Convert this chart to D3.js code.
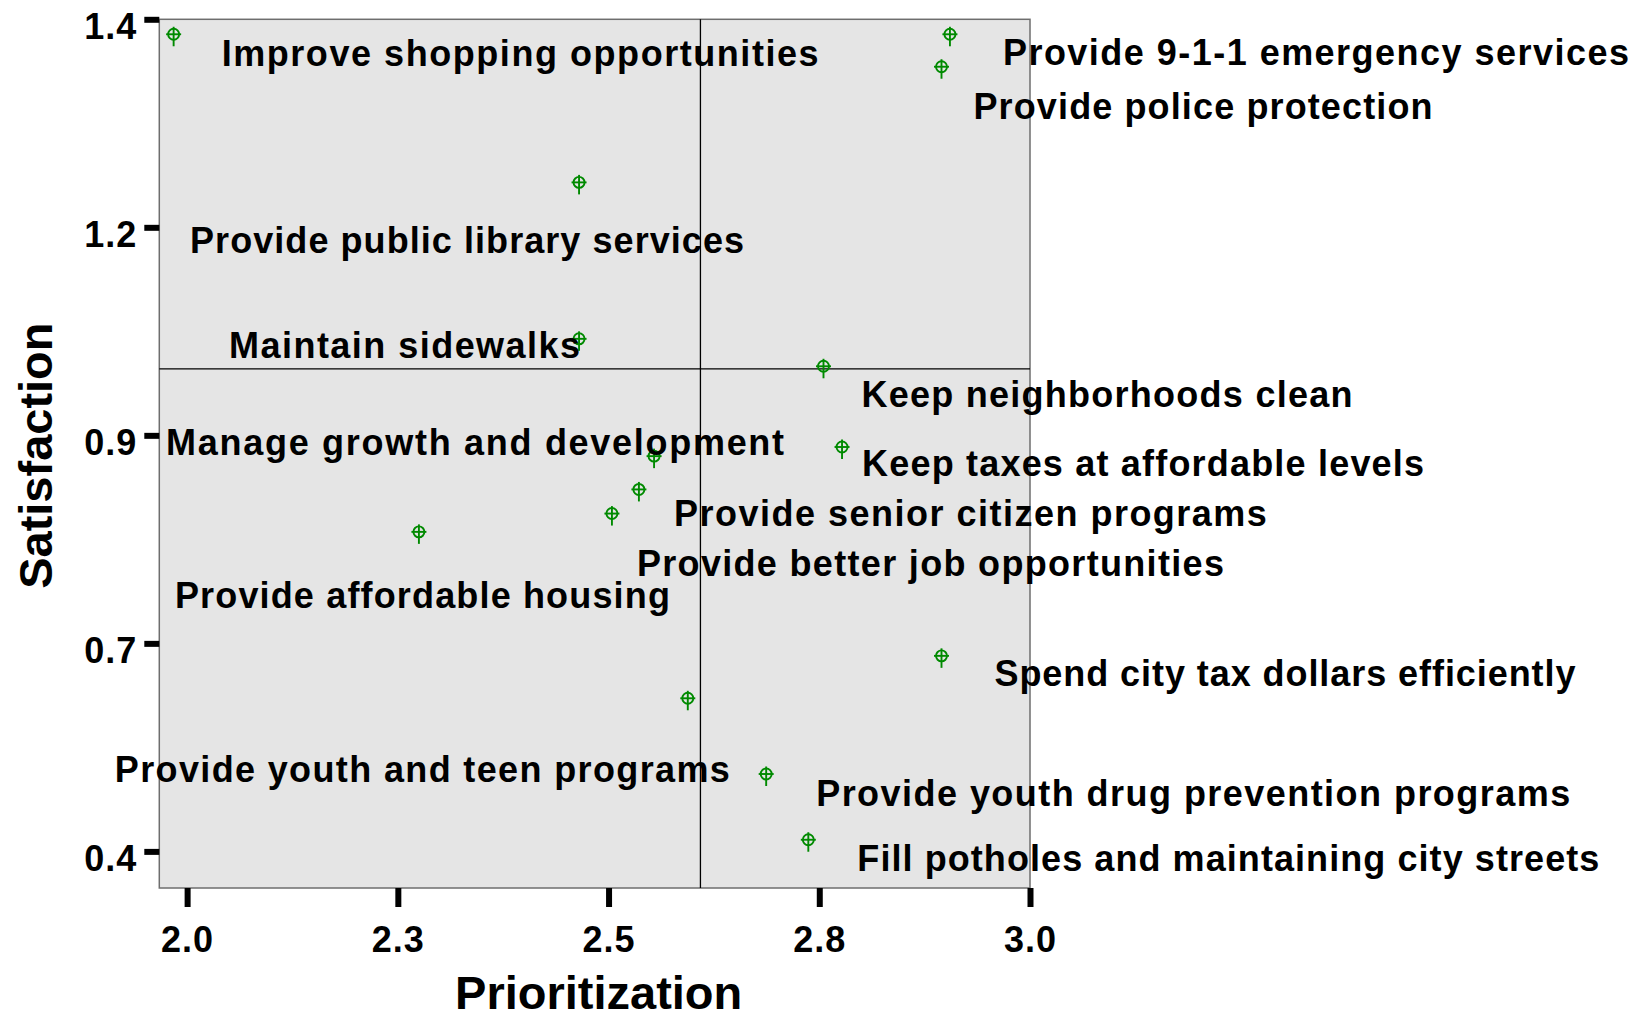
<!DOCTYPE html>
<html>
<head>
<meta charset="utf-8">
<script src="https://cdn.jsdelivr.net/npm/d3@7/dist/d3.min.js"></script>
<style>
  body { margin: 0; background: #fff; }
  svg text { font-family: "Liberation Sans", Arial, sans-serif; font-weight: bold; fill: #000; }
</style>
</head>
<body>
<svg id="chart" width="1646" height="1014"></svg>
<script>
// services rated by residents
var services = [
  "Improve shopping opportunities",
  "Provide 9-1-1 emergency services",
  "Provide police protection",
  "Provide public library services",
  "Maintain sidewalks",
  "Keep neighborhoods clean",
  "Keep taxes at affordable levels",
  "Manage growth and development",
  "Provide senior citizen programs",
  "Provide better job opportunities",
  "Provide affordable housing",
  "Spend city tax dollars efficiently",
  "Provide youth and teen programs",
  "Provide youth drug prevention programs",
  "Fill potholes and maintaining city streets"
];
var prioritization = [1.984, 2.905, 2.895, 2.465, 2.465, 2.755, 2.777, 2.554, 2.536, 2.504, 2.275, 2.895, 2.594, 2.687, 2.737];
var satisfaction   = [1.382, 1.382, 1.343, 1.204, 1.016, 0.983, 0.886, 0.875, 0.835, 0.806, 0.784, 0.635, 0.584, 0.493, 0.414];

var refPrioritization = 2.609,
    refSatisfaction = 0.980;

var xTicks = [2.0, 2.25, 2.5, 2.75, 3.0],
    xTickLabels = ["2.0", "2.3", "2.5", "2.8", "3.0"];
var yTicks = [0.4, 0.65, 0.9, 1.15, 1.4],
    yTickLabels = ["0.4", "0.7", "0.9", "1.2", "1.4"];

// label layout relative to its point (px): [dx to text start, dy to baseline, text width]
var labelLayout = [
  [48, 31.5, 597], [53, 31, 626], [32, 52, 459], [-389, 71, 554], [-350, 19.5, 351],
  [38, 41, 491], [20, 29, 562], [-488, -1.5, 618], [35, 37, 593], [25, 62, 587],
  [-244, 76.5, 495], [53, 30.5, 581], [-573, 83.5, 615], [50, 31.5, 754], [49, 31.5, 742]
];

var svg = d3.select("#chart"),
    plotLeft = 159.3, plotRight = 1030, plotTop = 19.3, plotBottom = 888;

var x = d3.scaleLinear().domain([1.967, 3.0]).range([plotLeft, plotRight]),
    y = d3.scaleLinear().domain([0.356, 1.4]).range([plotBottom, plotTop]);

// plot area
svg.append("rect")
   .attr("x", plotLeft)
   .attr("y", plotTop)
   .attr("width", plotRight - plotLeft)
   .attr("height", plotBottom - plotTop)
   .attr("fill", "#e5e5e5")
   .attr("stroke", "#6e6e6e")
   .attr("stroke-width", 1.5);

// quadrant lines
svg.append("line")
   .attr("x1", x(refPrioritization)).attr("x2", x(refPrioritization))
   .attr("y1", plotTop).attr("y2", plotBottom)
   .attr("stroke", "#000").attr("stroke-width", 1.3);
svg.append("line")
   .attr("x1", plotLeft).attr("x2", plotRight)
   .attr("y1", y(refSatisfaction)).attr("y2", y(refSatisfaction))
   .attr("stroke", "#000").attr("stroke-width", 1.3);

// axes
var yAxis = svg.append("g")
   .attr("transform", "translate(" + plotLeft + ",0)")
   .call(d3.axisLeft(y).tickValues(yTicks)
     .tickFormat(function(d, i) { return yTickLabels[i]; })
     .tickSize(15).tickPadding(7));

var xAxis = svg.append("g")
   .attr("transform", "translate(0," + plotBottom + ")")
   .call(d3.axisBottom(x).tickValues(xTicks)
     .tickFormat(function(d, i) { return xTickLabels[i]; })
     .tickSize(19).tickPadding(19));

[xAxis, yAxis].forEach(function(g) {
  g.select(".domain").remove();
  g.selectAll(".tick line").attr("stroke", "#000").attr("stroke-width", 6);
  g.selectAll(".tick text")
   .attr("font-size", "36px")
   .attr("font-family", null)
   .attr("letter-spacing", "1px")
   .attr("fill", "#000");
});
yAxis.selectAll(".tick text").attr("dy", "19px");
xAxis.selectAll(".tick text").attr("dy", "25.5px");

// axis titles
svg.append("text")
   .attr("x", (plotLeft + plotRight) / 2 + 4)
   .attr("y", 1009)
   .attr("text-anchor", "middle")
   .attr("font-size", "47px")
   .text("Prioritization");

svg.append("text")
   .attr("transform", "translate(52," + ((plotTop + plotBottom) / 2 + 2) + ") rotate(-90)")
   .attr("text-anchor", "middle")
   .attr("font-size", "47px")
   .text("Satisfaction");

// points
var pts = svg.append("g").selectAll("g.pt")
   .data(services)
   .enter().append("g")
   .attr("class", "pt")
   .attr("transform", function(d, i) {
     return "translate(" + x(prioritization[i]) + "," + y(satisfaction[i]) + ")";
   });

pts.append("circle")
   .attr("r", 5.5)
   .attr("fill", "none")
   .attr("stroke", "#008a00")
   .attr("stroke-width", 1.9);
pts.append("line")
   .attr("x1", -7.5).attr("x2", 7.5).attr("y1", 0).attr("y2", 0)
   .attr("stroke", "#008a00").attr("stroke-width", 1.9);
pts.append("line")
   .attr("x1", 0).attr("x2", 0).attr("y1", -7.5).attr("y2", 12)
   .attr("stroke", "#008a00").attr("stroke-width", 1.9);

// labels, stretched to the widths seen in the original
svg.append("g").selectAll("text.lbl")
   .data(services)
   .enter().append("text")
   .attr("class", "lbl")
   .attr("x", function(d, i) { return x(prioritization[i]) + labelLayout[i][0]; })
   .attr("y", function(d, i) { return y(satisfaction[i]) + labelLayout[i][1]; })
   .attr("textLength", function(d, i) { return labelLayout[i][2]; })
   .attr("lengthAdjust", "spacing")
   .attr("font-size", "36px")
   .text(function(d) { return d; });
</script>
</body>
</html>
